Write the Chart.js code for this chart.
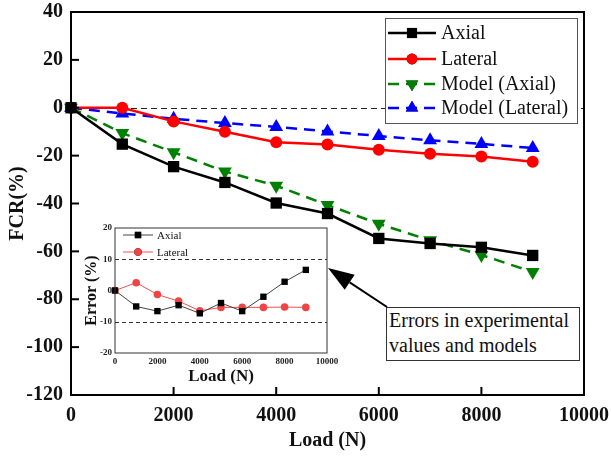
<!DOCTYPE html>
<html>
<head>
<meta charset="utf-8">
<script src="https://cdn.jsdelivr.net/npm/chart.js@4.4.0/dist/chart.umd.min.js"></script>
<style>
  html, body { margin: 0; padding: 0; background: #fff; }
  #wrap { position: relative; width: 611px; height: 457px; }
  #main { position: absolute; left: 0; top: 0; }
  #inset { position: absolute; left: 80px; top: 218px; }
  #note {
    position: absolute; left: 386px; top: 307px; width: 190px; height: 52px;
    border: 1px solid #333; background: #fff; box-sizing: content-box;
    font-family: "Liberation Serif", "Times New Roman", serif; font-size: 20px;
    line-height: 25px; padding-left: 2px; color: #111;
  }
</style>
</head>
<body>
<div id="wrap">
  <canvas id="main" width="611" height="457"></canvas>
  <canvas id="inset" width="267" height="170"></canvas>
  <div id="note">Errors in experimental<br>values and models</div>
</div>
<script>
// loads (N) shared by every series
const loads = [0, 1000, 2000, 3000, 4000, 5000, 6000, 7000, 8000, 9000];

// FCR (%) — main plot
const axial        = [0, -15.2, -24.6, -31.2, -39.8, -44.2, -54.6, -56.7, -58.3, -61.7];
const lateral      = [0, 0, -5.7, -10.0, -14.4, -15.4, -17.5, -19.2, -20.4, -22.6];
const modelAxial   = [0, -10.6, -18.6, -26.6, -32.6, -40.6, -48.5, -55.4, -61.5, -68.6];
const modelLateral = [0, -2.4, -4.6, -6.4, -8.0, -9.9, -11.8, -13.6, -15.1, -16.8];

// Error (%) — inset
const errAxial   = [0, -5.1, -6.6, -4.7, -7.3, -4.0, -6.6, -2.0, 2.8, 6.6];
const errLateral = [0, 2.5, -1.3, -3.4, -6.5, -5.4, -5.4, -5.4, -5.3, -5.4];

const yTicksMain = [-120, -100, -80, -60, -40, -20, 0, 20, 40];
const xTicks = [0, 2000, 4000, 6000, 8000, 10000];
const yTicksInset = [-20, -10, 0, 10, 20];

const SERIF = '"Liberation Serif", "Times New Roman", serif';

function pts(ys) { return loads.map((x, i) => ({ x, y: ys[i] })); }

// fixed axis size, no label overhang padding, so the plot box lands where it should
function fixSize(dim, size) {
  return s => {
    s[dim] = size;
    s.paddingTop = 0; s.paddingBottom = 0; s.paddingLeft = 0; s.paddingRight = 0;
  };
}

// frame + inward major ticks + dashed reference lines
function framePlugin(opts) {
  return {
    id: 'frame',
    beforeDatasetsDraw(chart) {
      const { ctx, chartArea: a, scales: { y } } = chart;
      ctx.save();
      if (opts.fill) { ctx.fillStyle = '#fff'; ctx.fillRect(a.left, a.top, a.width, a.height); }
      ctx.strokeStyle = opts.refColor; ctx.lineWidth = 1; ctx.setLineDash(opts.refDash);
      opts.refLines.forEach(v => {
        const py = Math.round(y.getPixelForValue(v)) + 0.5;
        ctx.beginPath(); ctx.moveTo(a.left, py); ctx.lineTo(a.right, py); ctx.stroke();
      });
      ctx.restore();
    },
    afterDraw(chart) {
      const { ctx, chartArea: a, scales: { x, y } } = chart;
      ctx.save();
      ctx.strokeStyle = opts.frameColor; ctx.lineWidth = opts.frameWidth;
      ctx.strokeRect(a.left, a.top, a.width, a.height);
      ctx.lineWidth = opts.tickWidth;
      if (opts.tickLen > 0) {
        y.ticks.forEach(t => {
          const py = y.getPixelForValue(t.value);
          ctx.beginPath(); ctx.moveTo(a.left, py); ctx.lineTo(a.left + opts.tickLen, py); ctx.stroke();
        });
        x.ticks.forEach(t => {
          const px = x.getPixelForValue(t.value);
          ctx.beginPath(); ctx.moveTo(px, a.bottom); ctx.lineTo(px, a.bottom - opts.tickLen); ctx.stroke();
        });
      }
      ctx.restore();
    }
  };
}

function drawSample(ctx, ds, x0, x1, y, r) {
  ctx.save();
  ctx.strokeStyle = ds.borderColor; ctx.lineWidth = ds.borderWidth;
  ctx.setLineDash(ds.borderDash || []);
  ctx.beginPath(); ctx.moveTo(x0, y); ctx.lineTo(x1, y); ctx.stroke();
  ctx.setLineDash([]);
  Chart.helpers.drawPoint(ctx, {
    pointStyle: ds.pointStyle, radius: r, rotation: ds.rotation || 0, borderWidth: 0
  }, (x0 + x1) / 2, y);
  ctx.fillStyle = ds.pointBackgroundColor;
  ctx.fill();
  ctx.restore();
}

// custom boxed legend (line + marker samples)
const mainLegend = {
  id: 'mainLegend',
  afterDraw(chart) {
    const { ctx } = chart;
    ctx.save();
    ctx.fillStyle = '#fff'; ctx.fillRect(385, 18, 192, 105);
    ctx.strokeStyle = '#555'; ctx.lineWidth = 1; ctx.strokeRect(385.5, 18.5, 192, 105);
    const rows = [33, 59, 84, 108];
    chart.data.datasets.forEach((ds, i) => {
      drawSample(ctx, ds, 388, 436, rows[i], ds.pointRadius * 0.9);
      ctx.fillStyle = '#111';
      ctx.font = '20px ' + SERIF; ctx.textBaseline = 'middle'; ctx.textAlign = 'left';
      ctx.fillText(ds.label, 441, rows[i] + 1);
    });
    ctx.restore();
  }
};

// arrow from the note box to the inset
const arrowPlugin = {
  id: 'arrow',
  afterDraw(chart) {
    const { ctx } = chart;
    const tip = { x: 328, y: 268 }, tail = { x: 387, y: 307 };
    const ang = Math.atan2(tip.y - tail.y, tip.x - tail.x);
    const L = 26, W = 9;
    const bx = tip.x - L * Math.cos(ang), by = tip.y - L * Math.sin(ang);
    ctx.save();
    ctx.strokeStyle = '#000'; ctx.lineWidth = 2;
    ctx.beginPath(); ctx.moveTo(tail.x, tail.y); ctx.lineTo(bx, by); ctx.stroke();
    ctx.fillStyle = '#000';
    ctx.beginPath();
    ctx.moveTo(tip.x, tip.y);
    ctx.lineTo(bx + W * Math.sin(ang), by - W * Math.cos(ang));
    ctx.lineTo(bx - W * Math.sin(ang), by + W * Math.cos(ang));
    ctx.closePath(); ctx.fill();
    ctx.restore();
  }
};

const mainSeries = [
  { label: 'Axial', data: pts(axial), borderColor: '#000', pointBackgroundColor: '#000',
    borderWidth: 2.5, pointStyle: 'rect', pointRadius: 8 },
  { label: 'Lateral', data: pts(lateral), borderColor: '#ff0000', pointBackgroundColor: '#ff0000',
    borderWidth: 2.5, pointStyle: 'circle', pointRadius: 6 },
  { label: 'Model (Axial)', data: pts(modelAxial), borderColor: '#008000', pointBackgroundColor: '#008000',
    borderWidth: 2.5, borderDash: [11, 7], pointStyle: 'triangle', rotation: 180, pointRadius: 8 },
  { label: 'Model (Lateral)', data: pts(modelLateral), borderColor: '#0000ff', pointBackgroundColor: '#0000ff',
    borderWidth: 2.5, borderDash: [11, 7], pointStyle: 'triangle', pointRadius: 8 },
].map(d => ({ ...d, showLine: true, fill: false, tension: 0, pointBorderWidth: 0, clip: false,
  pointBorderColor: d.pointBackgroundColor }));

const tickFont = (size, weight) => ({ family: SERIF, size, weight });
const plain = v => String(v);

new Chart(document.getElementById('main'), {
  type: 'scatter',
  data: { datasets: mainSeries },
  options: {
    responsive: false, animation: false, events: [],
    layout: { padding: { top: 12, right: 27, left: 0, bottom: 0 } },
    plugins: { legend: { display: false }, tooltip: { enabled: false } },
    scales: {
      x: {
        type: 'linear', min: 0, max: 10000,
        afterBuildTicks: s => { s.ticks = xTicks.map(v => ({ value: v })); },
        afterFit: fixSize('height', 62),
        grid: { display: false, drawTicks: false }, border: { display: false },
        ticks: { font: tickFont(20, 'bold'), color: '#111', padding: 9, maxRotation: 0, callback: plain },
        title: { display: true, text: 'Load (N)', font: tickFont(20, 'bold'), color: '#111',
          padding: { top: 0, bottom: 4 } }
      },
      y: {
        type: 'linear', min: -120, max: 40,
        afterBuildTicks: s => { s.ticks = yTicksMain.map(v => ({ value: v })); },
        afterFit: fixSize('width', 71),
        grid: { display: false, drawTicks: false }, border: { display: false },
        ticks: { font: tickFont(20, 'bold'), color: '#111', padding: 8, callback: plain },
        title: { display: true, text: 'FCR(%)', font: tickFont(20, 'bold'), color: '#111',
          padding: { top: 6, bottom: 0 } }
      }
    }
  },
  plugins: [
    framePlugin({ fill: false, refLines: [0], refColor: '#222', refDash: [6, 4],
      frameColor: '#000', frameWidth: 2, tickWidth: 2, tickLen: 8 }),
    mainLegend, arrowPlugin
  ]
});

// inset: error between experiments and models
const insetLegend = {
  id: 'insetLegend',
  afterDraw(chart) {
    const { ctx } = chart;
    const rows = [17, 34];
    chart.data.datasets.forEach((ds, i) => {
      drawSample(ctx, ds, 43, 73, rows[i], ds.pointRadius);
      ctx.save();
      ctx.fillStyle = '#111'; ctx.font = '11px ' + SERIF;
      ctx.textBaseline = 'middle'; ctx.textAlign = 'left';
      ctx.fillText(ds.label, 77, rows[i] + 1);
      ctx.restore();
    });
  }
};

new Chart(document.getElementById('inset'), {
  type: 'scatter',
  data: {
    datasets: [
      { label: 'Axial', data: pts(errAxial), showLine: true, borderColor: '#444', borderWidth: 1,
        pointStyle: 'rect', pointRadius: 4.5, pointBackgroundColor: '#000', pointBorderWidth: 0, clip: false },
      { label: 'Lateral', data: pts(errLateral), showLine: true, borderColor: '#f05050', borderWidth: 1,
        pointStyle: 'circle', pointRadius: 3.8, pointBackgroundColor: '#f04444', pointBorderWidth: 0, clip: false }
    ]
  },
  options: {
    responsive: false, animation: false, events: [],
    layout: { padding: { top: 10, right: 20, left: 0, bottom: 0 } },
    plugins: { legend: { display: false }, tooltip: { enabled: false } },
    scales: {
      x: {
        type: 'linear', min: 0, max: 10000,
        afterBuildTicks: s => { s.ticks = xTicks.map(v => ({ value: v })); },
        afterFit: fixSize('height', 35),
        grid: { display: false, drawTicks: false }, border: { display: false },
        ticks: { font: tickFont(9, 'bold'), color: '#222', padding: 3, maxRotation: 0, callback: plain },
        title: { display: true, text: 'Load (N)', font: tickFont(17, 'bold'), color: '#111',
          padding: { top: 0, bottom: 1 } }
      },
      y: {
        type: 'linear', min: -20, max: 20,
        afterBuildTicks: s => { s.ticks = yTicksInset.map(v => ({ value: v })); },
        afterFit: fixSize('width', 35),
        grid: { display: false, drawTicks: false }, border: { display: false },
        ticks: { font: tickFont(9, 'bold'), color: '#222', padding: 3, callback: plain },
        title: { display: true, text: 'Error (%)', font: tickFont(16, 'bold'), color: '#111',
          padding: { top: 2, bottom: 0 } }
      }
    }
  },
  plugins: [
    framePlugin({ fill: true, refLines: [10, -10], refColor: '#333', refDash: [4, 3],
      frameColor: '#333', frameWidth: 1, tickWidth: 1, tickLen: 0 }),
    insetLegend
  ]
});
</script>
</body>
</html>
